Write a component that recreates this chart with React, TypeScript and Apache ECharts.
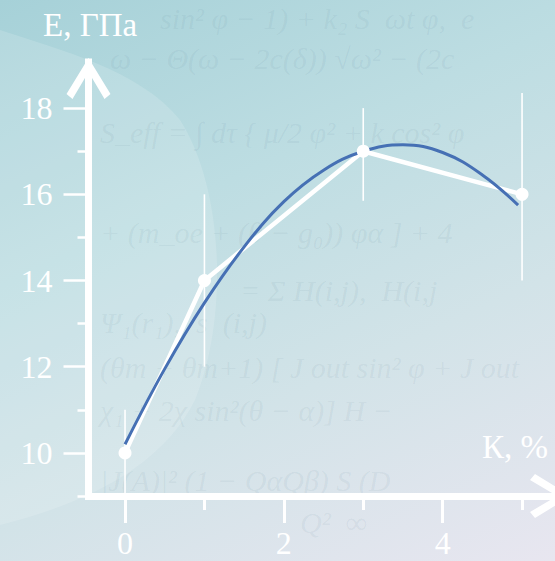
import React, { useEffect, useRef } from "react";
import * as echarts from "echarts";

// measured points (strain K, % ; modulus E, GPa)
const strain = [0, 1, 3, 5];
const modulus = [10, 14, 17, 16];
const errLow = [9, 12, 15.85, 14];
const errHigh = [11, 16, 18, 18.35];

// fitted curve
const fitX = [0, 0.5, 1, 1.5, 2, 2.5, 3, 3.5, 4, 4.5, 4.95];
const fitY = [10.2, 11.95, 13.48, 14.78, 15.83, 16.56, 17.0, 17.15, 16.97, 16.45, 15.75];

const xMajorTicks = [0, 2, 4];
const xMinorTicks = [1, 3, 5];
const yMajorTicks = [10, 12, 14, 16, 18];
const yMinorTicks = [9, 11, 13, 15, 17];

const yTitle = "E, ГПа";
const xTitle = "К, %";

// faint handwritten formulas of the background
const formulaText = [
  "sin² φ − 1) + k₂ S  ωt φ,  e",
  "ω − Θ(ω − 2c(δ)) √ω² − (2c",
  "S_eff = ∫ dτ { μ/2 φ² + k cos² φ",
  "+ (m_oe + (θ − g₀)) φα ] + 4",
  "= Σ H(i,j),  H(i,j",
  "Ψ₁(r₁),  s  (i,j)",
  "(θm + θm+1) [ J out sin² φ + J out",
  "χ₁ + 2χ sin²(θ − α)] H −",
  "|J(A)|² (1 − QαQβ) S (D",
  "Q²  ∞",
];
const formulaX = [160, 110, 100, 100, 240, 100, 100, 100, 100, 300];
const formulaY = [18, 58, 132, 232, 290, 322, 367, 410, 480, 522];

const BLOB =
  "M0,30 C60,50 140,70 180,120 C225,190 228,320 195,400 C160,470 80,505 0,525 Z";
echarts.graphic.registerShape("bgblob", echarts.graphic.extendPath(BLOB, {}));

const CHEVRON = "path://M22,0 L44,36 L38,41 L22,14 L6,41 L0,36 Z";
const serif = '"Liberation Serif", "Times New Roman", serif';

const CHART_W = 600;

export default function App() {
  const ref = useRef<HTMLDivElement>(null);
  useEffect(() => {
    if (!ref.current) return;
    const chart = echarts.init(ref.current, undefined, { renderer: "svg" });
    const xMin = -0.46;
    const xMax = 5.566;
    const yMin = 9;
    const yMax = 19.07;
    const axisLine = {
      show: true,
      onZero: false,
      symbol: ["none", CHEVRON],
      symbolSize: [44, 41],
      symbolOffset: [0, -16.5],
      lineStyle: { color: "#ffffff", width: 7, cap: "square" },
    };
    const option: any = {
      animation: false,
      grid: { left: 88.5, right: CHART_W - 567, top: 62, bottom: 65, containLabel: false },
      xAxis: [
        {
          type: "value",
          position: "bottom",
          min: xMin,
          max: xMax,
          axisLine,
          splitLine: { show: false },
          axisTick: {
            show: true,
            customValues: xMajorTicks,
            length: 27,
            lineStyle: { color: "#fff", width: 3 },
          },
          axisLabel: {
            show: true,
            customValues: xMajorTicks,
            margin: 47,
            verticalAlign: "middle",
            lineHeight: 30,
            color: "#fff",
            fontFamily: serif,
            fontSize: 32,
          },
        },
        {
          type: "value",
          position: "bottom",
          min: xMin,
          max: xMax,
          axisLine: { show: false, onZero: false },
          splitLine: { show: false },
          axisTick: {
            show: true,
            customValues: xMinorTicks,
            length: 14,
            lineStyle: { color: "#fff", width: 3 },
          },
          axisLabel: { show: false },
        },
      ],
      yAxis: [
        {
          type: "value",
          position: "left",
          min: yMin,
          max: yMax,
          axisLine,
          splitLine: { show: false },
          axisTick: {
            show: true,
            customValues: yMajorTicks,
            length: 25,
            lineStyle: { color: "#fff", width: 2.5 },
          },
          axisLabel: {
            show: true,
            customValues: yMajorTicks,
            margin: 36,
            color: "#fff",
            fontFamily: serif,
            fontSize: 32,
          },
        },
        {
          type: "value",
          position: "left",
          min: yMin,
          max: yMax,
          axisLine: { show: false, onZero: false },
          splitLine: { show: false },
          axisTick: {
            show: true,
            customValues: yMinorTicks,
            length: 11,
            lineStyle: { color: "#fff", width: 2.5 },
          },
          axisLabel: { show: false },
        },
      ],
      graphic: [
        {
          type: "bgblob",
          x: 0,
          y: 0,
          z: -20,
          silent: true,
          style: { fill: "rgba(255,255,255,0.15)" },
        },
        ...formulaText.map((t, i) => ({
          type: "text",
          x: formulaX[i],
          y: formulaY[i],
          z: -10,
          silent: true,
          style: {
            text: t,
            font: `italic 30px ${serif}`,
            fill: "rgba(70,105,130,0.08)",
            verticalAlign: "middle",
          },
        })),
        {
          type: "text",
          x: 43,
          y: 25,
          z: 10,
          style: {
            text: yTitle,
            font: `33px ${serif}`,
            fill: "#ffffff",
            verticalAlign: "middle",
          },
        },
        {
          type: "text",
          x: 548,
          y: 447,
          z: 10,
          style: {
            text: xTitle,
            font: `33px ${serif}`,
            fill: "#ffffff",
            align: "right",
            verticalAlign: "middle",
          },
        },
      ],
      series: [
        {
          type: "custom",
          name: "error",
          xAxisIndex: 0,
          yAxisIndex: 0,
          z: 1,
          data: strain.map((x, i) => [x, errLow[i], errHigh[i]]),
          encode: { x: 0, y: [1, 2] },
          renderItem: (params: any, api: any) => {
            const lo = api.coord([api.value(0), api.value(1)]);
            const hi = api.coord([api.value(0), api.value(2)]);
            return {
              type: "line",
              shape: { x1: lo[0], y1: lo[1], x2: hi[0], y2: hi[1] },
              style: { stroke: "#ffffff", lineWidth: 1.6 },
            };
          },
        },
        {
          type: "line",
          name: "measured",
          xAxisIndex: 0,
          yAxisIndex: 0,
          z: 2,
          data: strain.map((x, i) => [x, modulus[i]]),
          showSymbol: false,
          symbol: "none",
          lineStyle: { color: "#ffffff", width: 4.5 },
        },
        {
          type: "line",
          name: "fit",
          xAxisIndex: 0,
          yAxisIndex: 0,
          z: 3,
          smooth: 0.4,
          data: fitX.map((x, i) => [x, fitY[i]]),
          symbol: "none",
          lineStyle: { color: "#4670b4", width: 3 },
        },
        {
          type: "scatter",
          name: "points",
          xAxisIndex: 0,
          yAxisIndex: 0,
          z: 4,
          data: strain.map((x, i) => [x, modulus[i]]),
          symbol: "circle",
          symbolSize: 13,
          itemStyle: { color: "#ffffff", opacity: 1 },
        },
      ],
    };
    chart.setOption(option);
    return () => chart.dispose();
  }, []);
  return (
    <div
      style={{
        position: "fixed",
        left: 0,
        top: 0,
        width: 555,
        height: 561,
        overflow: "hidden",
        background:
          "linear-gradient(155deg, #a6d1d8 0%, #bddde2 35%, #d2e3e8 65%, #e8e6f0 100%)",
      }}
    >
      <div ref={ref} style={{ width: CHART_W, height: 561 }} />
    </div>
  );
}
